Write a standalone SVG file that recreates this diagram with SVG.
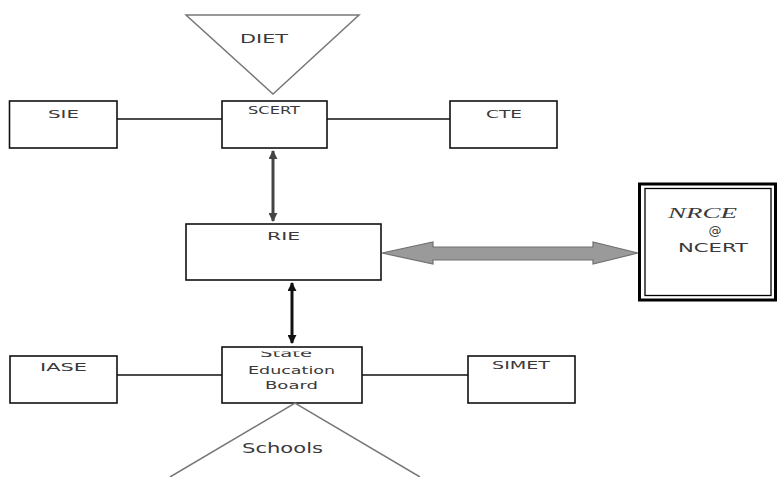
<svg xmlns="http://www.w3.org/2000/svg" width="777" height="477" viewBox="0 0 777 477">
<defs>
<style>
.box{fill:#fff;stroke:#111;stroke-width:1.6}
.ln{stroke:#111;stroke-width:1.3;fill:none}
.tri{stroke:#777;stroke-width:1.5;fill:none}
.t{font-family:"DejaVu Sans","Liberation Sans",Arial,sans-serif;fill:#3a3a3a}
.ti{font-family:"Liberation Serif","Times New Roman",serif;font-style:italic;fill:#3a3a3a}
</style>
<marker id="ah" viewBox="0 0 10 10" refX="9" refY="5" markerWidth="3" markerHeight="3" orient="auto-start-reverse" markerUnits="strokeWidth">
<path d="M0,0 L10,5 L0,10 z" fill="context-stroke"/>
</marker>
<clipPath id="sebClip"><rect x="222" y="351.5" width="140" height="60"/></clipPath>
</defs>
<rect width="777" height="477" fill="#fff"/>

<g id="connectors">
<line class="ln" x1="117" y1="119" x2="222" y2="119"/>
<line class="ln" x1="327" y1="119" x2="450" y2="119"/>
<line class="ln" x1="117" y1="375" x2="222" y2="375"/>
<line class="ln" x1="362" y1="375" x2="468" y2="375"/>
<line x1="273" y1="151" x2="273" y2="221" stroke="#444" stroke-width="3" marker-start="url(#ah)" marker-end="url(#ah)"/>
<line x1="292" y1="283" x2="292" y2="343" stroke="#111" stroke-width="3" marker-start="url(#ah)" marker-end="url(#ah)"/>
<polygon points="382,253 433,242 433,247 593,247 593,242 638,253 593,264 593,260 433,260 433,264" fill="#9a9a9a" stroke="#707070" stroke-width="1.2"/>
</g>

<g id="DIET">
<polygon class="tri" points="186,15 359,15 273,94"/>
<text class="t" x="240" y="43" font-size="12" textLength="48" lengthAdjust="spacingAndGlyphs">DIET</text>
</g>

<g id="SCERT">
<rect class="box" x="222" y="101" width="105" height="47"/>
<text class="t" x="248" y="114" font-size="10" textLength="52" lengthAdjust="spacingAndGlyphs">SCERT</text>
</g>

<g id="SIE">
<rect class="box" x="9.5" y="101" width="107.5" height="47"/>
<text class="t" x="48" y="118" font-size="10" textLength="31" lengthAdjust="spacingAndGlyphs">SIE</text>
</g>

<g id="CTE">
<rect class="box" x="450" y="101" width="107" height="47"/>
<text class="t" x="486" y="118" font-size="10" textLength="36" lengthAdjust="spacingAndGlyphs">CTE</text>
</g>

<g id="RIE">
<rect class="box" x="186" y="224" width="195" height="56"/>
<text class="t" x="267" y="240" font-size="11" textLength="33" lengthAdjust="spacingAndGlyphs">RIE</text>
</g>

<g id="NRCE">
<rect x="639.5" y="184" width="136" height="116" fill="#fff" stroke="#000" stroke-width="3"/>
<rect x="645" y="188.5" width="126" height="107" fill="none" stroke="#000" stroke-width="1.3"/>
<text class="ti" x="668" y="218" font-size="14" textLength="69" lengthAdjust="spacingAndGlyphs">NRCE</text>
<text class="t" x="715" y="235" font-size="13" text-anchor="middle">@</text>
<text class="t" x="678" y="252" font-size="12" textLength="70" lengthAdjust="spacingAndGlyphs">NCERT</text>
</g>

<g id="StateEducationBoard">
<rect class="box" x="222" y="347" width="140" height="56"/>
<text class="t" x="260" y="357" font-size="11" textLength="52" lengthAdjust="spacingAndGlyphs" clip-path="url(#sebClip)">State</text>
<text class="t" x="248" y="374" font-size="11" textLength="87" lengthAdjust="spacingAndGlyphs">Education</text>
<text class="t" x="265" y="389" font-size="11" textLength="53" lengthAdjust="spacingAndGlyphs">Board</text>
</g>

<g id="IASE">
<rect class="box" x="10" y="356" width="107" height="47"/>
<text class="t" x="40" y="371" font-size="10" textLength="47" lengthAdjust="spacingAndGlyphs">IASE</text>
</g>

<g id="SIMET">
<rect class="box" x="468" y="356" width="107" height="47"/>
<text class="t" x="492" y="369" font-size="10" textLength="58" lengthAdjust="spacingAndGlyphs">SIMET</text>
</g>

<g id="Schools">
<polyline class="tri" points="170,477 295,403 420,477"/>
<text class="t" x="242" y="453" font-size="14" textLength="81" lengthAdjust="spacingAndGlyphs">Schools</text>
</g>
</svg>
